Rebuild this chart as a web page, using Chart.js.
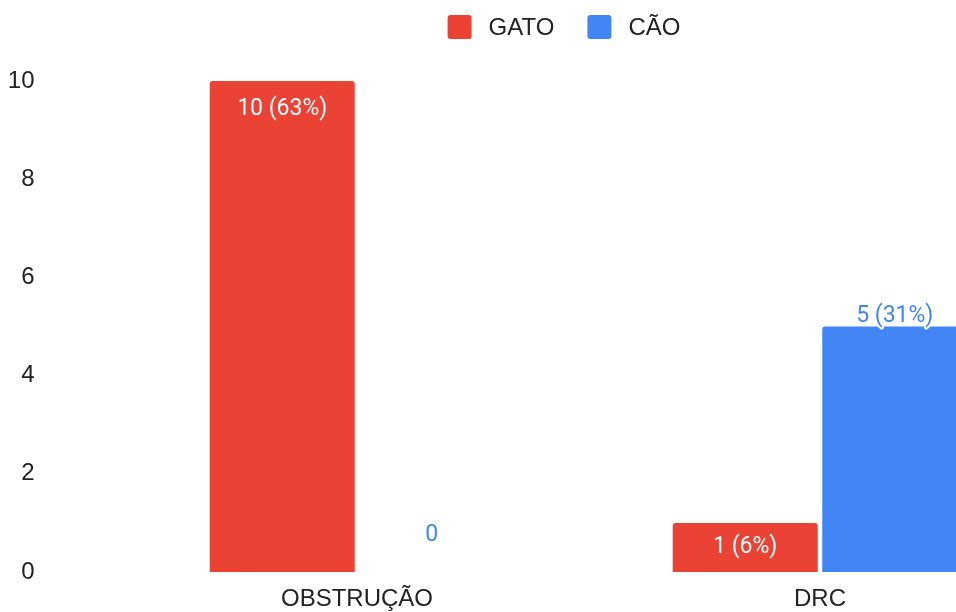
<!DOCTYPE html>
<html lang="pt">
<head>
<meta charset="utf-8">
<title>GATO x CÃO</title>
<script src="https://cdn.jsdelivr.net/npm/chart.js@4"></script>
<style>
  html, body { margin: 0; padding: 0; background: #fff; overflow: hidden; }
  #wrap { width: 1128px; height: 612px; }
</style>
</head>
<body>
<div id="wrap"><canvas id="grafico" width="1128" height="612"></canvas></div>
<script>
const categorias = ["OBSTRUÇÃO", "DRC"];
const gato = [10, 1];
const cao = [0, 5];
const ticksY = [0, 2, 4, 6, 8, 10];

const VERMELHO = "#EA4335";
const AZUL = "#4285F4";
const fonteEixo = '"Liberation Sans", Arial, sans-serif';
const fonteRotulo = 'Roboto, "Noto Sans", sans-serif';

const total = gato.concat(cao).reduce((a, b) => a + b, 0);

// legenda desenhada à mão, centrada no topo
const legenda = {
  id: "legendaTopo",
  afterDraw(chart) {
    const ctx = chart.ctx;
    ctx.save();
    ctx.font = "24px " + fonteEixo;
    ctx.textBaseline = "middle";
    const caixa = 24, espTexto = 17, espItem = 33, yMeio = 27;
    const itens = chart.data.datasets.map(ds => ({
      texto: ds.label, cor: ds.backgroundColor, w: ctx.measureText(ds.label).width
    }));
    const largura = itens.reduce((s, it) => s + caixa + espTexto + it.w, 0) + espItem * (itens.length - 1);
    let x = chart.width / 2 - largura / 2;
    itens.forEach(it => {
      ctx.fillStyle = it.cor;
      ctx.beginPath();
      ctx.roundRect(x, yMeio - caixa / 2, caixa, caixa, 3);
      ctx.fill();
      x += caixa + espTexto;
      ctx.fillStyle = "#222";
      ctx.fillText(it.texto, x, yMeio + 1);
      x += it.w + espItem;
    });
    ctx.restore();
  }
};

// rótulos "valor (pct%)" sobre as barras
const rotulos = {
  id: "rotulosBarras",
  afterDatasetsDraw(chart) {
    const ctx = chart.ctx;
    ctx.save();
    ctx.font = "23px " + fonteRotulo;
    ctx.textAlign = "center";
    ctx.textBaseline = "middle";
    chart.data.datasets.forEach((ds, i) => {
      chart.getDatasetMeta(i).data.forEach((bar, j) => {
        const v = ds.data[j];
        const txt = v === 0 ? "0" : v + " (" + Math.round(v / total * 100) + "%)";
        if (i === 0) {
          const y = Math.min(bar.y + 28, (bar.y + bar.base) / 2);
          ctx.fillStyle = "#fff";
          ctx.fillText(txt, bar.x, y);
        } else {
          const y = bar.y - (v > 0 ? 10 : 37);
          ctx.lineJoin = "round";
          ctx.lineWidth = 4;
          ctx.strokeStyle = "#fff";
          if (v > 0) ctx.strokeText(txt, bar.x, y);
          ctx.fillStyle = AZUL;
          ctx.fillText(txt, bar.x, y);
        }
      });
    });
    ctx.restore();
  }
};

new Chart(document.getElementById("grafico"), {
  type: "bar",
  data: {
    labels: categorias,
    datasets: [
      { label: "GATO", data: gato, backgroundColor: VERMELHO },
      { label: "CÃO", data: cao, backgroundColor: AZUL }
    ]
  },
  options: {
    responsive: false,
    animation: false,
    categoryPercentage: 0.646,
    barPercentage: 0.97,
    borderRadius: 3,
    layout: { padding: { top: 81, right: 76.5, bottom: 0, left: 0 } },
    plugins: {
      legend: { display: false },
      tooltip: { enabled: false }
    },
    scales: {
      x: {
        afterFit: s => { s.height = 40; },
        grid: { display: false, drawTicks: false },
        border: { display: false },
        ticks: { color: "#222", padding: 13, font: { family: fonteEixo, size: 24 } }
      },
      y: {
        min: 0,
        max: 10,
        afterBuildTicks: s => { s.ticks = ticksY.map(v => ({ value: v })); },
        // o padding grande dos rótulos não deve empurrar a área do gráfico na vertical
        afterFit: s => { s.width = 125.5; s.paddingTop = 14; s.paddingBottom = 14; },
        grid: { display: false, drawTicks: false },
        border: { display: false },
        ticks: { color: "#222", padding: 91, font: { family: fonteEixo, size: 24 } }
      }
    }
  },
  plugins: [legenda, rotulos]
});
</script>
</body>
</html>
